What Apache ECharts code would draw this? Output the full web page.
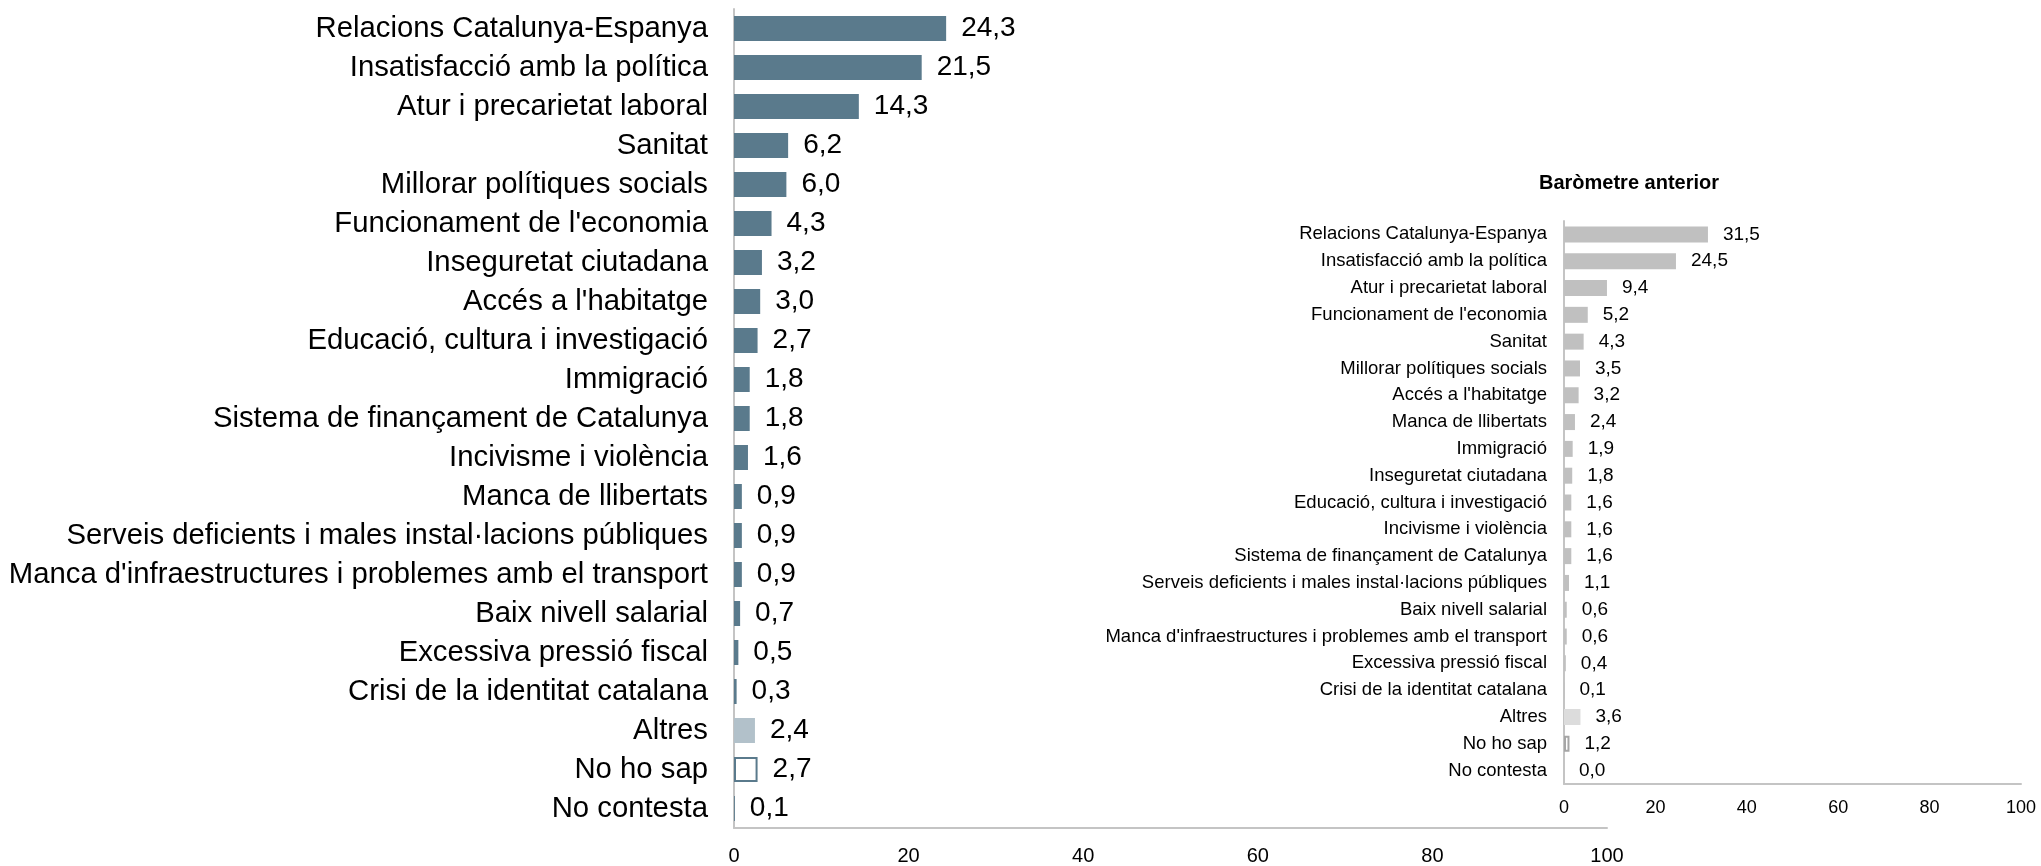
<!DOCTYPE html>
<html>
<head>
<meta charset="utf-8">
<script src="https://cdn.jsdelivr.net/npm/echarts@6/dist/echarts.min.js"></script>
<style>
  html, body { margin: 0; padding: 0; background: #fff; }
  #chart { width: 2041px; height: 866px; }
</style>
</head>
<body>
<div id="chart"></div>
<script>
// baròmetre actual
const currentCategories = [
  "Relacions Catalunya-Espanya",
  "Insatisfacció amb la política",
  "Atur i precarietat laboral",
  "Sanitat",
  "Millorar polítiques socials",
  "Funcionament de l'economia",
  "Inseguretat ciutadana",
  "Accés a l'habitatge",
  "Educació, cultura i investigació",
  "Immigració",
  "Sistema de finançament de Catalunya",
  "Incivisme i violència",
  "Manca de llibertats",
  "Serveis deficients i males instal·lacions públiques",
  "Manca d'infraestructures i problemes amb el transport",
  "Baix nivell salarial",
  "Excessiva pressió fiscal",
  "Crisi de la identitat catalana",
  "Altres",
  "No ho sap",
  "No contesta"
];
const currentValues = [24.3, 21.5, 14.3, 6.2, 6.0, 4.3, 3.2, 3.0, 2.7, 1.8, 1.8, 1.6, 0.9, 0.9, 0.9, 0.7, 0.5, 0.3, 2.4, 2.7, 0.1];

// baròmetre anterior
const previousCategories = [
  "Relacions Catalunya-Espanya",
  "Insatisfacció amb la política",
  "Atur i precarietat laboral",
  "Funcionament de l'economia",
  "Sanitat",
  "Millorar polítiques socials",
  "Accés a l'habitatge",
  "Manca de llibertats",
  "Immigració",
  "Inseguretat ciutadana",
  "Educació, cultura i investigació",
  "Incivisme i violència",
  "Sistema de finançament de Catalunya",
  "Serveis deficients i males instal·lacions públiques",
  "Baix nivell salarial",
  "Manca d'infraestructures i problemes amb el transport",
  "Excessiva pressió fiscal",
  "Crisi de la identitat catalana",
  "Altres",
  "No ho sap",
  "No contesta"
];
const previousValues = [31.5, 24.5, 9.4, 5.2, 4.3, 3.5, 3.2, 2.4, 1.9, 1.8, 1.6, 1.6, 1.6, 1.1, 0.6, 0.6, 0.4, 0.1, 3.6, 1.2, 0.0];

const xTicks = [0, 20, 40, 60, 80, 100];

const FONT = "'Liberation Sans', Arial, sans-serif";
const fmt = v => v.toFixed(1).replace('.', ',');

// colors per barra segons la categoria
function buildData(cats, vals, main, other, border) {
  return vals.map((v, i) => {
    const name = cats[i];
    let style = { color: main };
    if (name === "Altres") style = { color: other };
    if (name === "No ho sap") style = { color: '#ffffff', borderColor: border, borderWidth: 2 };
    return { value: v, itemStyle: style };
  });
}

const axisLine = { show: true, lineStyle: { color: '#c4c4c4', width: 2 } };

const chart = echarts.init(document.getElementById('chart'));
chart.setOption({
  animation: false,
  backgroundColor: '#ffffff',
  title: {
    text: 'Baròmetre anterior',
    left: 1624,
    top: 168,
    textAlign: 'center',
    textStyle: { fontFamily: FONT, fontSize: 20, fontWeight: 'bold', color: '#000' }
  },
  grid: [
    { left: 734, right: 434, top: 9, bottom: 33 },
    { left: 1564, right: 20, top: 221, bottom: 82 }
  ],
  xAxis: [
    {
      gridIndex: 0, type: 'value', min: xTicks[0], max: xTicks[xTicks.length - 1], interval: 20,
      axisLine: axisLine, axisTick: { show: false }, splitLine: { show: false },
      axisLabel: { fontFamily: FONT, fontSize: 20, color: '#000', margin: 18 }
    },
    {
      gridIndex: 1, type: 'value', min: xTicks[0], max: xTicks[xTicks.length - 1], interval: 20,
      axisLine: axisLine, axisTick: { show: false }, splitLine: { show: false },
      axisLabel: { fontFamily: FONT, fontSize: 18, color: '#000', margin: 15 }
    }
  ],
  yAxis: [
    {
      gridIndex: 0, type: 'category', inverse: true, data: currentCategories,
      axisLine: axisLine, axisTick: { show: false },
      axisLabel: { fontFamily: FONT, fontSize: 29.3, color: '#000', margin: 26 }
    },
    {
      gridIndex: 1, type: 'category', inverse: true, data: previousCategories,
      axisLine: axisLine, axisTick: { show: false },
      axisLabel: { fontFamily: FONT, fontSize: 18.5, color: '#000', margin: 17 }
    }
  ],
  series: [
    {
      type: 'bar', xAxisIndex: 0, yAxisIndex: 0, barWidth: 25,
      data: buildData(currentCategories, currentValues, '#5a7a8c', '#b2c1ca', '#5a7a8c'),
      label: {
        show: true, position: 'right', distance: 15,
        fontFamily: FONT, fontSize: 28, color: '#000',
        formatter: p => fmt(p.value)
      }
    },
    {
      type: 'bar', xAxisIndex: 1, yAxisIndex: 1, barWidth: 16,
      data: buildData(previousCategories, previousValues, '#c0c0c0', '#dcdcdc', '#a6a6a6'),
      label: {
        show: true, position: 'right', distance: 15,
        fontFamily: FONT, fontSize: 19, color: '#000',
        formatter: p => fmt(p.value)
      }
    }
  ]
});
</script>
</body>
</html>
